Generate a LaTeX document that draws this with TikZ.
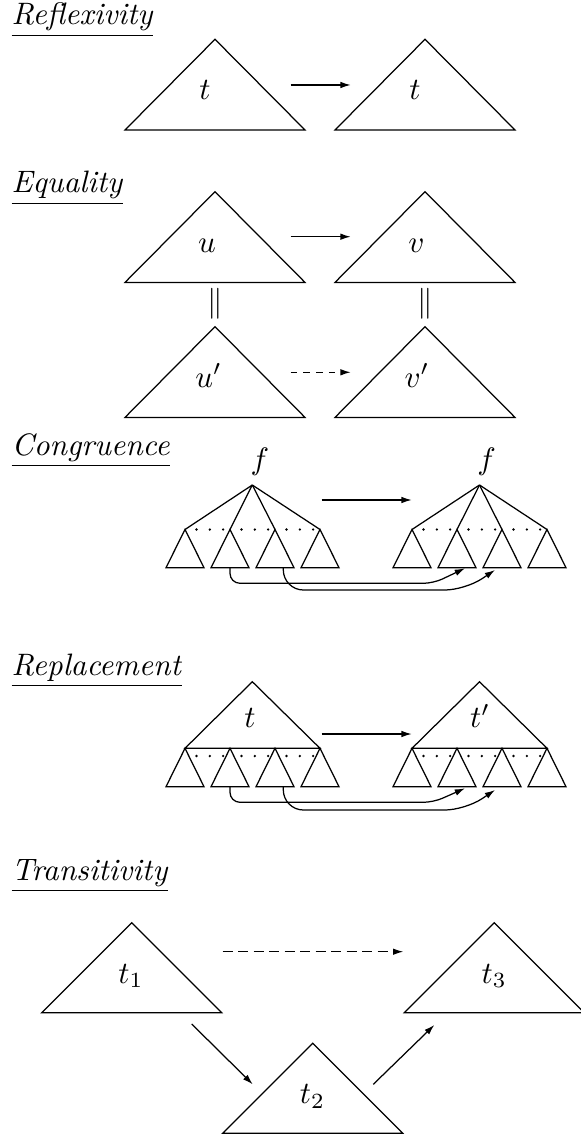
\documentclass[tikz,border=0pt]{standalone}
\usetikzlibrary{arrows.meta}
\begin{document}
\begin{tikzpicture}[x=0.3226pt,y=-0.3226pt,
  tri/.style={draw,line join=miter},
  arr/.style={-{Latex[length=3.3pt,width=2.1pt]}},
  dsh/.style={dash pattern=on 2.1pt off 2pt},
  dshb/.style={dash pattern=on 3.3pt off 1.7pt},
  ttl/.style={anchor=base west,inner sep=0pt},
  lbl/.style={anchor=base,inner sep=0pt}]
\useasboundingbox (0,0) rectangle (580,1140);

% ---------- Reflexivity
\node[ttl] (tR) at (11,25) {\underline{\textit{Reflexivity}}};
\coordinate (r1) at (215,39.3);
\coordinate (r2) at (425,39.3);
\draw[tri] (r1) -- ++(-90,90.7) -- ++(180,0) -- cycle;
\draw[tri] (r2) -- ++(-90,90.7) -- ++(180,0) -- cycle;
\node[lbl] (r1t) at (205,99.8) {$t$};
\node[lbl] (r2t) at (415,99.8) {$t$};
\coordinate (ra1) at (290.7,85);
\coordinate (ra2) at (350.7,85);
\draw[arr] (ra1) -- (ra2);

% ---------- Equality
\node[ttl] (tE) at (11,192.5) {\underline{\textit{Equality}}};
\coordinate (e1) at (215,191.7);
\coordinate (e2) at (425,191.7);
\coordinate (e3) at (215,326.7);
\coordinate (e4) at (425,326.7);
\foreach \c in {e1,e2,e3,e4}
  \draw[tri] (\c) -- ++(-90,90.7) -- ++(180,0) -- cycle;
\node[lbl] (e1t) at (207,252.2) {$u$};
\node[lbl] (e2t) at (416.5,252.2) {$v$};
\node[lbl] (e3t) at (208.5,387.2) {$u'$};
\node[lbl] (e4t) at (417,387.2) {$v'$};
\node (eq1) at (215,304) {$\|$};
\node (eq2) at (425,304) {$\|$};
\coordinate (ea1) at (290.7,236.7);
\coordinate (ea2) at (350.7,236.7);
\coordinate (ea3) at (290.7,372.3);
\coordinate (ea4) at (350.7,372.3);
\draw[arr] (ea1) -- (ea2);
\draw[arr,dsh] (ea3) -- (ea4);

% ---------- Congruence
\node[ttl] (tC) at (11,455) {\underline{\textit{Congruence}}};
\coordinate (cA) at (252.3,485);
\coordinate (cB) at (479.5,485);
\node[lbl] (cf1) at (260,469) {$f$};
\node[lbl] (cf2) at (486.7,469) {$f$};
\foreach \i/\x in {1/185,2/230,3/275,4/320}{
  \coordinate (cL\i) at (\x,529.5);
  \draw (cA) -- (cL\i);
  \draw[tri] (cL\i) -- ++(-19,38.2) -- ++(38,0) -- cycle;
}
\foreach \i/\x in {1/412,2/457,3/502,4/547}{
  \coordinate (cR\i) at (\x,529.5);
  \draw (cB) -- (cR\i);
  \draw[tri] (cR\i) -- ++(-19,38.2) -- ++(38,0) -- cycle;
}
\foreach \x in {185,230,275,412,457,502}
  \foreach \k in {0,1,2}
    \fill ({\x+11.5+13.3*\k},529.5) circle[radius=0.42pt];
\coordinate (ca1) at (321.7,500);
\coordinate (ca2) at (411.7,500);
\draw[arr] (ca1) -- (ca2);
\coordinate (cs1) at (230,567.7);
\coordinate (cm1) at (433.3,583.3);
\coordinate (ce1) at (465,568.3);
\coordinate (cs2) at (283.3,567.7);
\coordinate (cm2) at (465,590);
\coordinate (ce2) at (495,570);
\draw[arr] (cs1) [rounded corners=3.2pt] |- (cm1) [sharp corners] -- (ce1);
\draw[arr] (cs2) [rounded corners=6.5pt] |- (cm2) [sharp corners] -- (ce2);

% ---------- Replacement
\node[ttl] (tP) at (11,675) {\underline{\textit{Replacement}}};
\coordinate (pA) at (252.3,681.7);
\coordinate (pB) at (479.5,681.7);
\draw[tri] (pA) -- (185,748.3) -- (320,748.3) -- cycle;
\draw[tri] (pB) -- (412,748.3) -- (547,748.3) -- cycle;
\node[lbl] (pt1) at (250,727.3) {$t$};
\node[lbl] (pt2) at (480,727.3) {$t'$};
\foreach \i/\x in {1/185,2/230,3/275,4/320}{
  \coordinate (pL\i) at (\x,748.3);
  \draw[tri] (pL\i) -- ++(-19,38.4) -- ++(38,0) -- cycle;
}
\foreach \i/\x in {1/412,2/457,3/502,4/547}{
  \coordinate (pR\i) at (\x,748.3);
  \draw[tri] (pR\i) -- ++(-19,38.4) -- ++(38,0) -- cycle;
}
\foreach \x in {185,230,275,412,457,502}
  \foreach \k in {0,1,2}
    \fill ({\x+11.5+13.3*\k},756) circle[radius=0.42pt];
\coordinate (pa1) at (321.7,734);
\coordinate (pa2) at (411.7,734);
\draw[arr] (pa1) -- (pa2);
\coordinate (ps1) at (230,786.7);
\coordinate (pm1) at (433.3,802.3);
\coordinate (pe1) at (465,788.3);
\coordinate (ps2) at (283.3,786.7);
\coordinate (pm2) at (465,810);
\coordinate (pe2) at (495,790);
\draw[arr] (ps1) [rounded corners=3.2pt] |- (pm1) [sharp corners] -- (pe1);
\draw[arr] (ps2) [rounded corners=6.5pt] |- (pm2) [sharp corners] -- (pe2);

% ---------- Transitivity
\node[ttl] (tT) at (11,880) {\underline{\textit{Transitivity}}};
\coordinate (t1) at (131.7,922.7);
\coordinate (t2) at (312.7,1043.3);
\coordinate (t3) at (494.3,922.7);
\foreach \c in {t1,t2,t3}
  \draw[tri] (\c) -- ++(-90,90) -- ++(180,0) -- cycle;
\node[lbl] (t1l) at (131,983.2) {$t_1$};
\node[lbl] (t2l) at (312.5,1103.8) {$t_2$};
\node[lbl] (t3l) at (494.2,983.2) {$t_3$};
\coordinate (ta1) at (222.7,951.7);
\coordinate (ta2) at (403.3,951.7);
\coordinate (tb1) at (191.7,1024);
\coordinate (tb2) at (252.7,1084.3);
\coordinate (tc1) at (373.3,1084.3);
\coordinate (tc2) at (434.3,1025);
\draw[arr,dshb] (ta1) -- (ta2);
\draw[arr] (tb1) -- (tb2);
\draw[arr] (tc1) -- (tc2);
\end{tikzpicture}
\end{document}
